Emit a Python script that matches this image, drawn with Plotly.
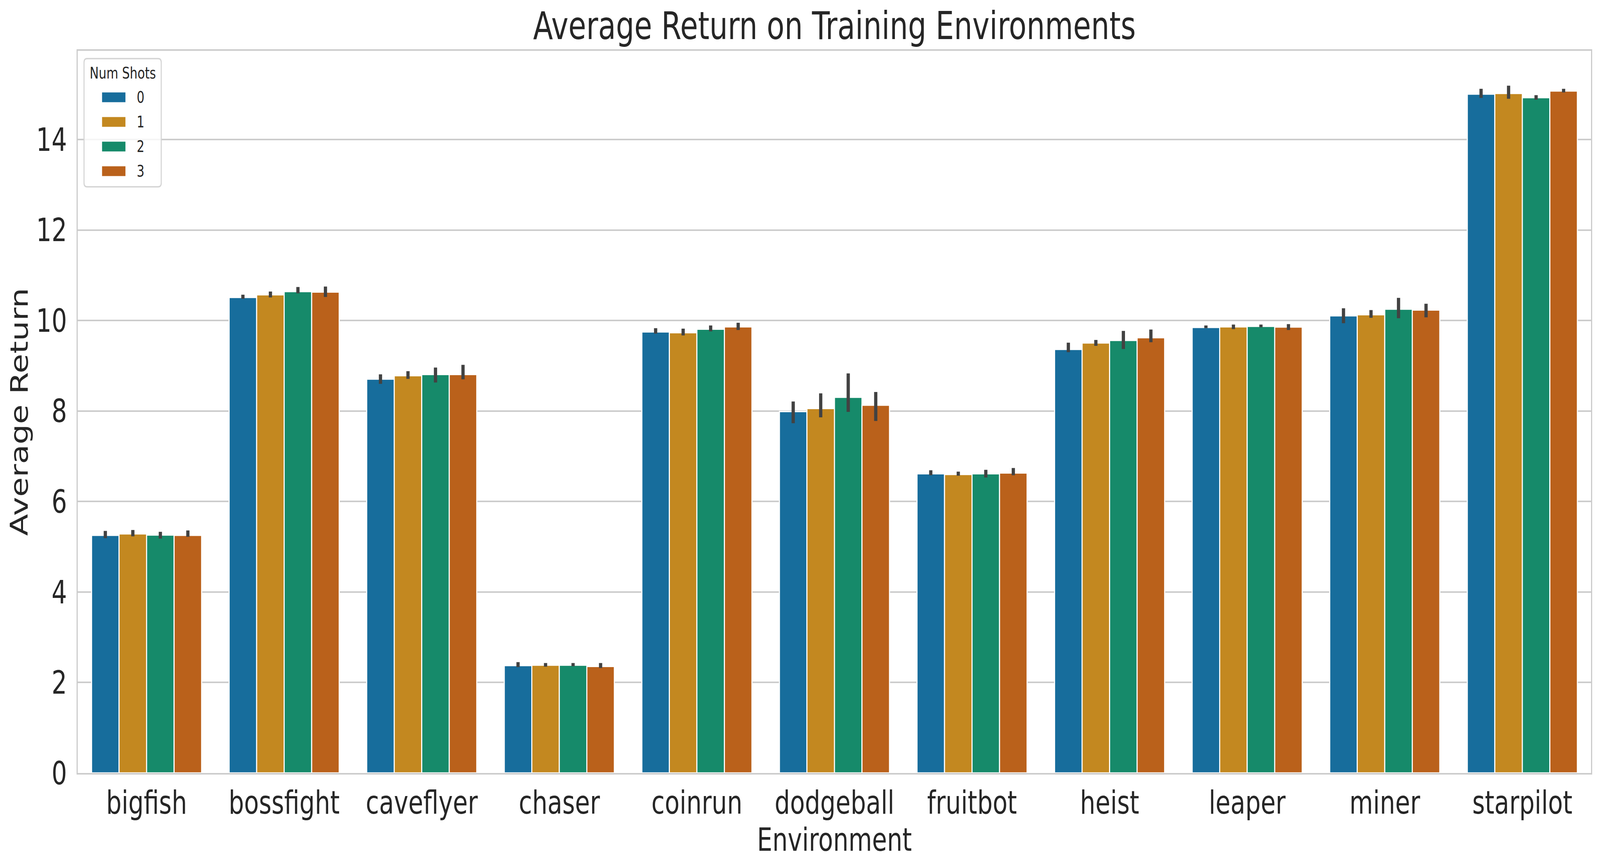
import plotly.graph_objects as go

environments = ["bigfish", "bossfight", "caveflyer", "chaser", "coinrun", "dodgeball",
                "fruitbot", "heist", "leaper", "miner", "starpilot"]
num_shots = ["0", "1", "2", "3"]

mean_0 = [5.253, 10.51, 8.705, 2.375, 9.749, 7.988, 6.614, 9.362, 9.847, 10.104, 15.005]
ci_hi_0 = [5.35, 10.57, 8.81, 2.45, 9.83, 8.21, 6.69, 9.51, 9.89, 10.27, 15.12]
ci_lo_0 = [5.19, 10.48, 8.60, 2.34, 9.71, 7.73, 6.58, 9.30, 9.83, 9.94, 14.92]

mean_1 = [5.286, 10.57, 8.782, 2.383, 9.732, 8.057, 6.598, 9.505, 9.861, 10.129, 15.020]
ci_hi_1 = [5.37, 10.64, 8.88, 2.43, 9.82, 8.39, 6.66, 9.57, 9.91, 10.23, 15.19]
ci_lo_1 = [5.23, 10.51, 8.71, 2.35, 9.67, 7.86, 6.57, 9.44, 9.81, 10.06, 14.90]

mean_2 = [5.26, 10.64, 8.808, 2.383, 9.81, 8.305, 6.614, 9.561, 9.871, 10.252, 14.926]
ci_hi_2 = [5.33, 10.74, 8.96, 2.43, 9.89, 8.83, 6.70, 9.77, 9.91, 10.50, 14.98]
ci_lo_2 = [5.18, 10.60, 8.63, 2.36, 9.76, 7.98, 6.53, 9.37, 9.85, 10.05, 14.88]

mean_3 = [5.253, 10.63, 8.808, 2.357, 9.862, 8.13, 6.631, 9.621, 9.856, 10.233, 15.074]
ci_hi_3 = [5.36, 10.75, 9.02, 2.43, 9.95, 8.42, 6.74, 9.80, 9.92, 10.37, 15.12]
ci_lo_3 = [5.22, 10.52, 8.70, 2.32, 9.79, 7.78, 6.58, 9.52, 9.79, 10.07, 15.04]

y_ticks = [0, 2, 4, 6, 8, 10, 12, 14]

series = [
    (num_shots[0], mean_0, ci_lo_0, ci_hi_0),
    (num_shots[1], mean_1, ci_lo_1, ci_hi_1),
    (num_shots[2], mean_2, ci_lo_2, ci_hi_2),
    (num_shots[3], mean_3, ci_lo_3, ci_hi_3),
]
colors = ["#176d9c", "#c38820", "#168a6a", "#ba611b"]

FONT = "DejaVu Sans"
TXT = "#262626"
GRID = "#cccccc"

W, H = 5408, 2216
ML, MR, MT, MB = 263, 30, 130, 238
PW, PH = W - ML - MR, H - MT - MB

fig = go.Figure()
for (name, m, lo, hi), c in zip(series, colors):
    fig.add_trace(go.Bar(
        x=environments, y=m, name=name,
        marker=dict(color=c, line=dict(color="white", width=3.6)),
        error_y=dict(type="data", symmetric=False,
                     array=[h - v for h, v in zip(hi, m)],
                     arrayminus=[v - l for v, l in zip(m, lo)],
                     color="#424242", thickness=11, width=0),
        showlegend=False,
    ))


# legend drawn in matplotlib style (pixel -> paper coordinates)
def px(x):
    return (x - ML) / PW


def py(y):
    return (H - MB - y) / PH


bx0, bx1, by0, by1, r = 284, 545, 150, 478, 10
path = (f"M{px(bx0 + r)},{py(by0)} L{px(bx1 - r)},{py(by0)} Q{px(bx1)},{py(by0)} {px(bx1)},{py(by0 + r)} "
        f"L{px(bx1)},{py(by1 - r)} Q{px(bx1)},{py(by1)} {px(bx1 - r)},{py(by1)} "
        f"L{px(bx0 + r)},{py(by1)} Q{px(bx0)},{py(by1)} {px(bx0)},{py(by1 - r)} "
        f"L{px(bx0)},{py(by0 + r)} Q{px(bx0)},{py(by0)} {px(bx0 + r)},{py(by0)} Z")
shapes = [dict(type="path", xref="paper", yref="paper", path=path,
               fillcolor="rgba(255,255,255,0.8)", line=dict(color="#d4d4d4", width=3.5),
               layer="above")]
annotations = [dict(xref="paper", yref="paper", x=px(415), y=py(187), text="Num Shots",
                    showarrow=False, xanchor="center", yanchor="middle",
                    font=dict(family=FONT, size=41, color=TXT))]
row0, rowgap = 249, 63
for i, ((name, *_), c) in enumerate(zip(series, colors)):
    cy = row0 + i * rowgap
    shapes.append(dict(type="rect", xref="paper", yref="paper",
                       x0=px(345), x1=px(424), y0=py(cy - 12.5), y1=py(cy + 12.5),
                       fillcolor=c, line=dict(width=0), layer="above"))
    annotations.append(dict(xref="paper", yref="paper", x=px(460), y=py(cy), text=name,
                            showarrow=False, xanchor="left", yanchor="middle",
                            font=dict(family=FONT, size=41, color=TXT)))

fig.update_layout(
    width=W, height=H,
    margin=dict(l=ML, r=MR, t=MT, b=MB, autoexpand=False),
    paper_bgcolor="white", plot_bgcolor="white",
    font=dict(family=FONT, color=TXT),
    barmode="group", bargap=0.2, bargroupgap=0.0,
    title=dict(text="Average Return on Training Environments", x=0.5, xanchor="center",
               xref="paper", y=1 - 66 / H, yref="container", yanchor="middle",
               font=dict(family=FONT, size=98, color=TXT)),
    shapes=shapes, annotations=annotations,
    showlegend=False,
)
fig.update_xaxes(
    type="category", showgrid=False, zeroline=False,
    showline=True, mirror=True, linecolor=GRID, linewidth=4,
    ticks="", tickfont=dict(family=FONT, size=82, color=TXT),
    ticklabelstandoff=2,
    title=dict(text="Environment", font=dict(family=FONT, size=82, color=TXT), standoff=0),
    automargin=False,
)
fig.update_yaxes(
    range=[0, 15.96], tickvals=y_ticks, ticktext=[str(t) for t in y_ticks],
    showgrid=True, gridcolor=GRID, gridwidth=4, zeroline=False,
    showline=True, mirror=True, linecolor=GRID, linewidth=4,
    ticks="", tickfont=dict(family=FONT, size=82, color=TXT),
    ticklabelstandoff=16,
    title=dict(text="Average Return", font=dict(family=FONT, size=82, color=TXT), standoff=2),
    automargin=False,
)

# fit the 5408x2216 figure into whatever window size the page is opened in
fit_script = """
document.documentElement.style.margin = '0';
document.body.style.margin = '0';
document.body.style.overflow = 'hidden';
var gd = document.getElementById('{plot_id}');
var sx = Math.min(1, window.innerWidth / %d);
var sy = Math.min(1, window.innerHeight / %d);
gd.style.transformOrigin = '0 0';
gd.style.transform = 'scale(' + sx + ',' + sy + ')';
""" % (W, H)

fig.write_html("out.html", post_script=fit_script, config={"displayModeBar": False})
